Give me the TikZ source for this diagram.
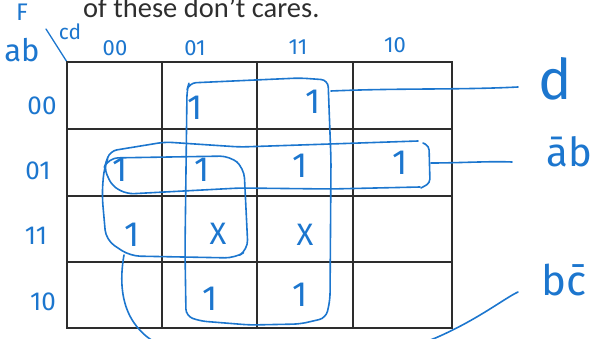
\documentclass[tikz,border=0pt]{standalone}
\usepackage{fontspec}
\setmainfont{Carlito}
\newfontfamily\handfont{Fira Sans}
\usepackage{xcolor}
\usetikzlibrary{positioning}
\definecolor{penblue}{RGB}{28,118,206}
\definecolor{gridgray}{RGB}{45,45,45}
\tikzset{
  hw/.style={text=penblue, inner sep=0pt, font=\handfont\fontsize{26}{26}\selectfont},
  hwcol/.style={hw, font=\handfont\fontsize{22}{22}\selectfont},
  hwone/.style={hw, font=\handfont\fontsize{35}{35}\selectfont},
  hwx/.style={hw, font=\handfont\fontsize{31}{31}\selectfont},
  hwterm/.style={hw, anchor=base, font=\handfont\fontsize{40}{40}\selectfont},
  kgrid/.style={gridgray, line width=1.2pt},
  kloop/.style={penblue, line width=1.6pt, line cap=round, line join=round, rounded corners=7pt},
  klead/.style={penblue, line width=1.6pt, line cap=round}
}

\begin{document}
\begin{tikzpicture}[x=1pt, y=-1pt]
\useasboundingbox (0,0) rectangle (596,339);
\clip (0,0) rectangle (596,339);
\node[anchor=base west, inner sep=0pt, text=black!82, font=\fontsize{28.5}{28.5}\selectfont] (note) at (83,18) {of these don’t cares.};
\node[hw, font=\handfont\fontsize{24}{24}\selectfont] (fname) at (22,12) {F};
\node[hw, font=\handfont\fontsize{31}{31}\selectfont] (rowvar) at (22,50) {ab};
\node[hw, font=\handfont\fontsize{21}{21}\selectfont] (colvar) at (70,32) {cd};
\draw[klead, line width=1.3pt] (46,29) -- (67,62);
\draw[kgrid] (67,62) rectangle (452,328);
\foreach \gx in {162,257,353} \draw[kgrid] (\gx,62) -- (\gx,328);
\foreach \gy in {129,196,262} \draw[kgrid] (67,\gy) -- (452,\gy);
\node[hwcol] (c00) at (115,48) {00};
\node[hwcol] (c01) at (195,48) {01};
\node[hwcol] (c11) at (298,47) {11};
\node[hwcol] (c10) at (395,45) {10};
\node[hw] (r00) at (42,106) {00};
\node[hw] (r01) at (38,171) {01};
\node[hw] (r11) at (36,236) {11};
\node[hw] (r10) at (43,302) {10};
\node[hwone] (m0001) at (195,108) {1};
\node[hwone] (m0011) at (313,102) {1};
\node[hwone] (m0100) at (120,170) {1};
\node[hwone] (m0101) at (202,170) {1};
\node[hwone] (m0111) at (300,166) {1};
\node[hwone] (m0110) at (400,163) {1};
\node[hwone] (m1100) at (132,235) {1};
\node[hwx] (m1101) at (218,234) {X};
\node[hwx] (m1111) at (305,235) {X};
\node[hwone] (m1001) at (210,299) {1};
\node[hwone] (m1011) at (300,295) {1};
\draw[kloop] (187,90) -- (189,83) -- (255,80) -- (300,78) -- (328,80) -- (331,160) -- (330,300) -- (326,318) -- (300,324) -- (250,325) -- (200,321) -- (186,316) -- (185,250) -- cycle;
\draw[kloop] (418,141) -- (330,144) -- (240,147) -- (165,142) -- (110,151) -- (104,168) -- (112,186) -- (127,194) -- (240,188) -- (330,189) -- (420,187);
\draw[kloop, rounded corners=4pt] (423,143) -- (429,146) -- (430,183) -- (421,188);
\draw[kloop, rounded corners=10pt] (108,158) -- (230,156) -- (244,168) -- (248,250) -- (235,258) -- (130,256) -- (106,240) -- (102,195) -- (104,168) -- cycle;
\node[hwterm, font=\handfont\fontsize{56}{56}\selectfont] (tdd) at (555,100) {d};
\node[hwterm] (tab) at (569,167) {\=ab};
\node[hwterm, font=\handfont\fontsize{42}{42}\selectfont] (tbc) at (564,295) {b\=c};
\coordinate (dtab) at (331,91);
\coordinate (dend) at (518,87);
\coordinate (abtab) at (431,163);
\coordinate (abend) at (512,162);
\coordinate (bctab) at (124,255);
\coordinate (bcend) at (518,292);
\draw[klead] (dtab) .. controls (400,88) and (460,90) .. (dend);
\draw[klead] (abtab) .. controls (460,163) and (490,161) .. (abend);
\draw[klead] (bctab) .. controls (116,300) and (130,330) .. (160,345) .. controls (250,380) and (400,355) .. (440,336) .. controls (480,318) and (505,298) .. (bcend);
\end{tikzpicture}
\end{document}
